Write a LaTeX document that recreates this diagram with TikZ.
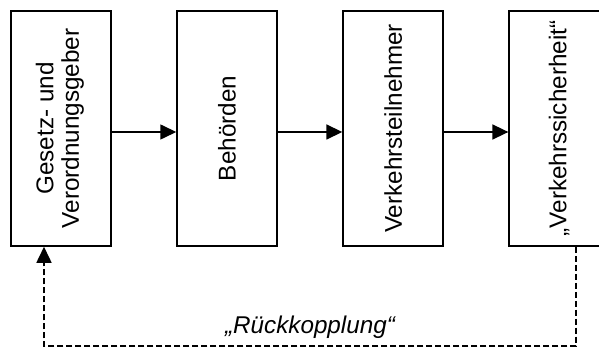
\documentclass[tikz,border=0pt]{standalone}
\usepackage{fontspec}
\setmainfont{Liberation Sans}
\usepackage{graphicx}
\usetikzlibrary{positioning,arrows.meta}

\begin{document}
\begin{tikzpicture}[
    x=0.02cm, y=-0.02cm,
    node distance=1.29cm,
    box/.style={draw, line width=0.9pt, minimum width=2cm, minimum height=4.7cm, inner sep=0pt, font=\fontsize{13.8}{14.5}\selectfont},
    flow/.style={draw, line width=0.9pt, -{Triangle[length=0.32cm, width=0.3cm]}},
    feedback/.style={draw, line width=0.9pt, dash pattern=on 0.12cm off 0.06cm, -{Triangle[length=0.32cm, width=0.3cm]}},
    fbtext/.style={font=\fontsize{13.8}{14.5}\selectfont\itshape, inner sep=0pt}
]
\useasboundingbox (0,0) rectangle (599,347);

% Define the four stages
\node[box] (gesetz) at (61,128.5) {\rotatebox{90}{\begin{tabular}{@{}c@{}}Gesetz- und\\Verordnungsgeber\end{tabular}}};
\node[box, right=of gesetz] (behoerden) {\rotatebox{90}{Behörden}};
\node[box, right=of behoerden] (teilnehmer) {\rotatebox{90}{Verkehrsteilnehmer}};
\node[box, right=of teilnehmer] (sicherheit) {\rotatebox{90}{„Verkehrssicherheit“}};

% Forward arrows
\draw[flow] ([yshift=-0.07cm]gesetz.east) -- ([yshift=-0.07cm]behoerden.west);
\draw[flow] ([yshift=-0.07cm]behoerden.east) -- ([yshift=-0.07cm]teilnehmer.west);
\draw[flow] ([yshift=-0.07cm]teilnehmer.east) -- ([yshift=-0.07cm]sicherheit.west);

% Feedback loop back to the first box
\coordinate (fbR) at (576,346);
\coordinate (fbL) at (44,346);
\draw[feedback] (sicherheit.south -| fbR) -- (fbR) -- (fbL)
    node[fbtext, midway, above=0.13cm] (rueck) {„Rückkopplung“}
    -- (gesetz.south -| fbL);

\end{tikzpicture}
\end{document}
